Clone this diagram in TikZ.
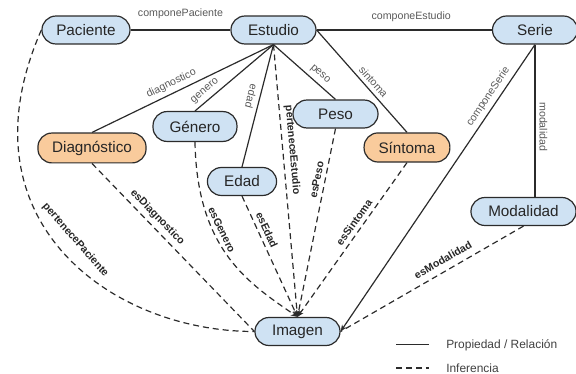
\documentclass[tikz,border=0pt]{standalone}
\usepackage{fontspec}
\setmainfont{Liberation Sans}
\usetikzlibrary{arrows.meta}
\definecolor{azul}{HTML}{CFE2F3}
\definecolor{naranja}{HTML}{F9CB9C}
\definecolor{borde}{HTML}{2B2B2B}

\begin{document}
\begin{tikzpicture}[
    clase/.style={draw=borde, line width=0.9pt, fill=azul, rounded corners=0.37cm,
        minimum height=0.74cm, inner sep=2pt, font=\fontsize{11.5}{13}\selectfont, text=black!85},
    hallazgo/.style={clase, fill=naranja},
    rel/.style={line width=0.9pt, draw=borde},
    infer/.style={rel, dash pattern=on 4.5pt off 3pt},
    prop/.style={font=\fontsize{8}{9}\selectfont, text=black!65, inner sep=3pt},
    inf/.style={font=\fontsize{8}{9}\selectfont\bfseries, text=black!85, inner sep=3pt},
    leyenda/.style={font=\fontsize{9}{10}\selectfont, text=black!75, inner sep=0pt, anchor=west},
    >={Stealth[length=5pt,width=4pt]}
]
    \useasboundingbox (0,0) rectangle (15.24,9.895);

    % clases
    \node[clase, minimum width=2.33cm] (paciente) at (2.275, 9.101) {Paciente};
    \node[clase, minimum width=2.25cm] (estudio) at (7.236, 9.101) {Estudio};
    \node[clase, minimum width=2.25cm] (serie) at (14.155, 9.101) {Serie};
    \node[hallazgo, minimum width=2.86cm, minimum height=0.79cm] (diagnostico) at (2.434, 5.980) {Diagnóstico};
    \node[clase, minimum width=2.22cm, minimum height=0.79cm] (genero) at (5.159, 6.548) {Género};
    \node[clase, minimum width=1.83cm] (edad) at (6.403, 5.093) {Edad};
    \node[clase, minimum width=2.25cm] (peso) at (8.877, 6.879) {Peso};
    \node[hallazgo, minimum width=2.27cm, minimum height=0.77cm] (sintoma) at (10.768, 5.993) {Síntoma};
    \node[clase, minimum width=2.78cm] (modalidad) at (13.851, 4.299) {Modalidad};
    \node[clase, minimum width=2.25cm] (imagen) at (7.871, 1.124) {Imagen};

    % propiedades
    \draw[rel] (paciente) -- (estudio) node[midway, above=5pt, prop] {componePaciente};
    \draw[rel] (estudio) -- (serie) node[pos=0.54, above=3pt, prop] {componeEstudio};
    \draw[rel] (estudio.south) -- (diagnostico.north) node[pos=0.54, sloped, above, prop] {diagnostico};
    \draw[rel] (estudio.south) -- (genero.north) node[pos=0.8, sloped, above, prop] {genero};
    \draw[rel] (estudio.south) -- (edad.north) node[pos=0.44, sloped, allow upside down, below, prop] {edad};
    \draw[rel] (estudio.south) -- (peso.north) node[pos=0.66, sloped, above, prop] {peso};
    \draw[rel] (estudio.east) -- (sintoma.north) node[pos=0.56, sloped, above, prop] {sintoma};
    \draw[rel, ->] (serie.south) -- (imagen.east) node[pos=0.2, sloped, above, prop] {componeSerie};
    \draw[rel] (serie.south) -- (serie.south |- modalidad.north) node[pos=0.54, sloped, allow upside down, above, prop] {modalidad};

    % inferencias
    \draw[infer] (paciente.west) .. controls +(-2.2,-5.0) and +(-3.84,0) .. (imagen.west)
        node[pos=0.5, sloped, above=6pt, inf] {pertenecePaciente};
    \draw[infer] (diagnostico.south) -- (imagen.west) node[pos=0.36, sloped, above, inf] {esDiagnostico};
    \draw[infer, ->] (genero.south) .. controls +(0.053,-2.884) and +(-1.257,0.873) .. (imagen.north)
        node[pos=0.36, sloped, above, inf] {esGenero};
    \draw[infer, ->] (edad.south) -- (imagen.north) node[pos=0.31, sloped, above, inf] {esEdad};
    \draw[infer, ->] (estudio.south) -- (imagen.north) node[pos=0.39, sloped, above, inf] {perteneceEstudio};
    \draw[infer, ->] (peso.south) -- (imagen.north) node[pos=0.28, sloped, above, inf] {esPeso};
    \draw[infer, ->] (sintoma.south) -- (imagen.north) node[pos=0.42, sloped, above, inf] {esSintoma};
    \draw[infer] (modalidad.south) -- (imagen.east) node[pos=0.41, sloped, above=2pt, inf] {esModalidad};

    % leyenda
    \coordinate (relA) at (10.48, 0.77);
    \coordinate (relB) at (11.35, 0.77);
    \coordinate (infA) at (10.48, 0.16);
    \coordinate (infB) at (11.35, 0.16);
    \draw[rel] (relA) -- (relB);
    \draw[infer] (infA) -- (infB);
    \node[leyenda] (lrel) at (11.80, 0.77) {Propiedad / Relación};
    \node[leyenda] (linf) at (11.80, 0.16) {Inferencia};
\end{tikzpicture}
\end{document}
